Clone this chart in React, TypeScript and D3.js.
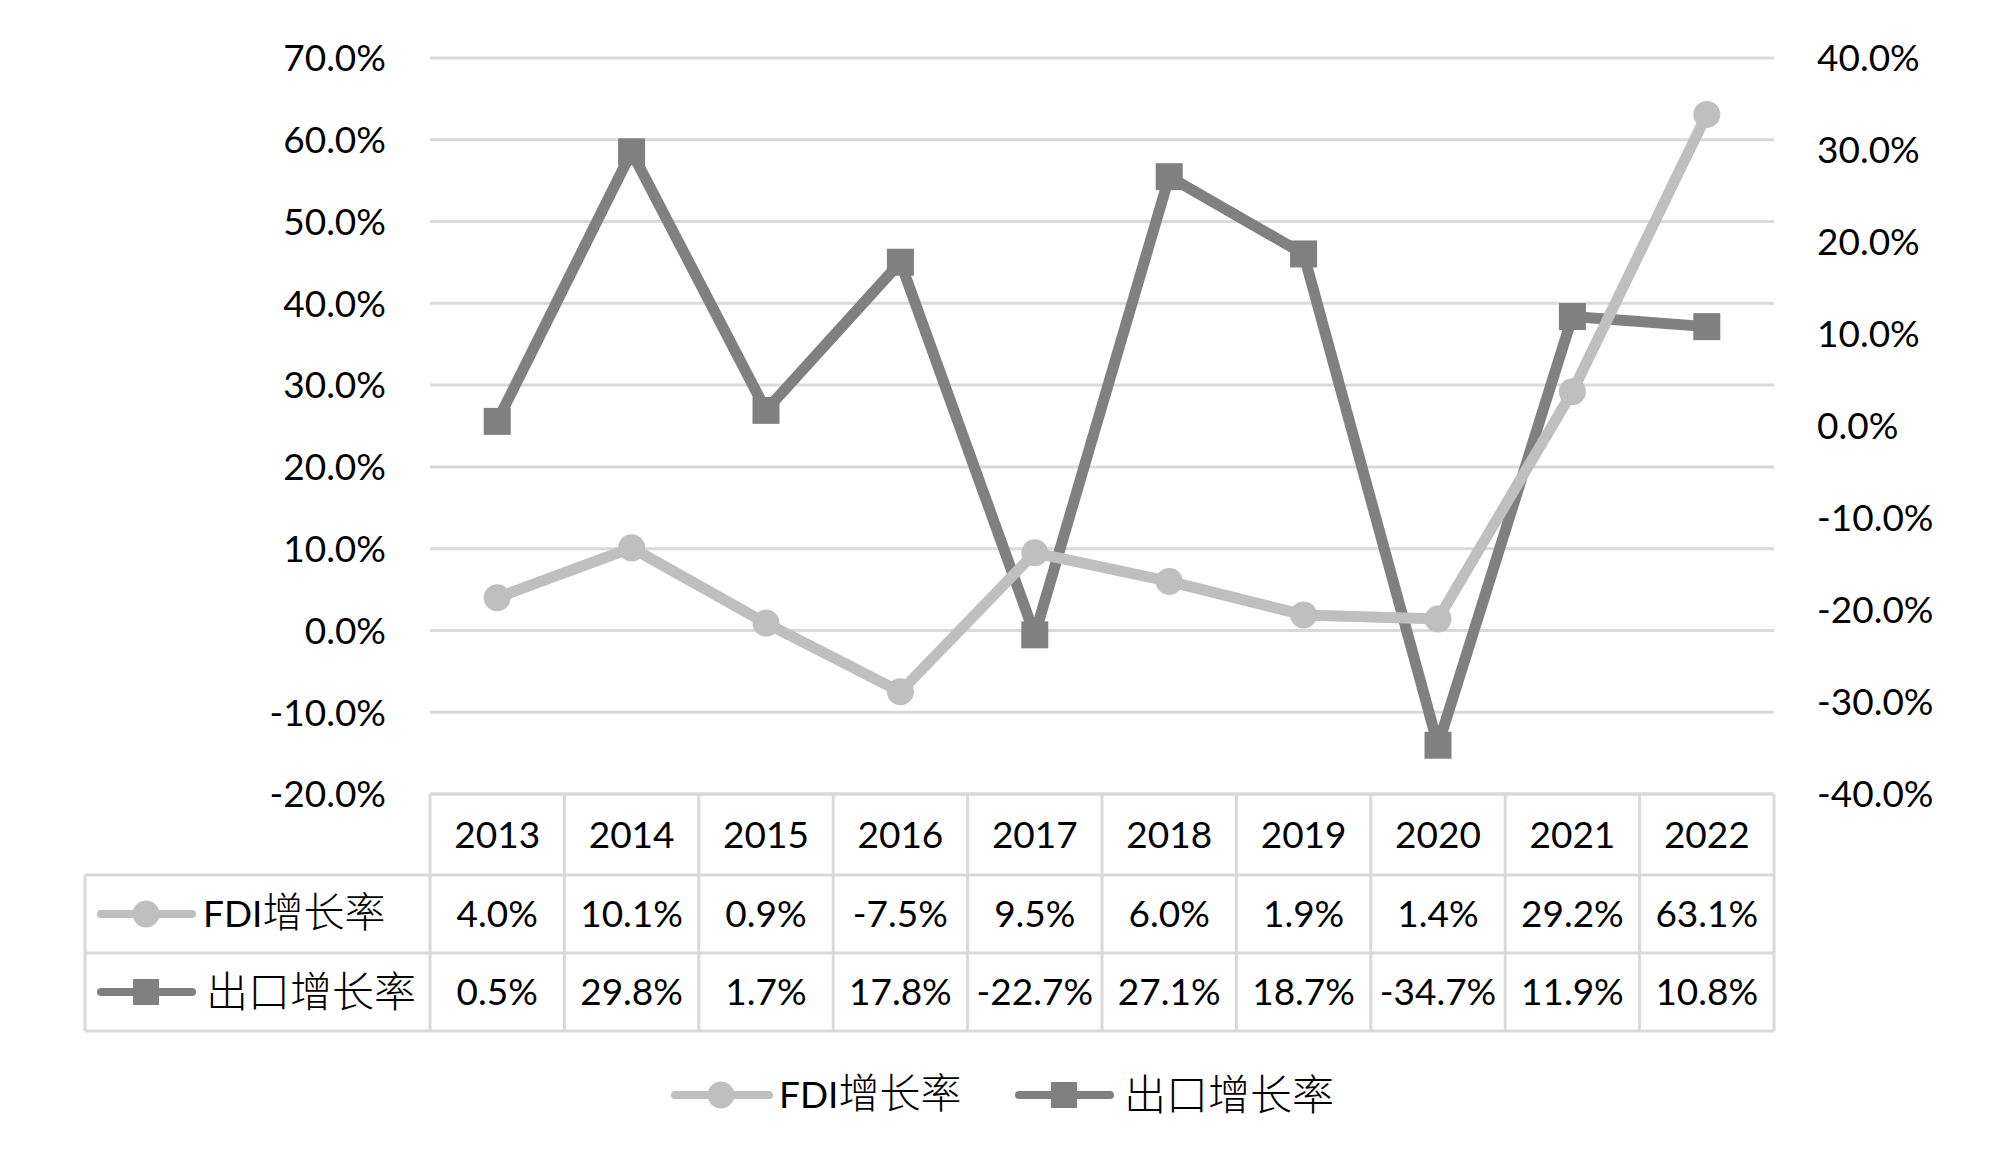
import React from "react";
import * as d3 from "d3";

const years = ["2013", "2014", "2015", "2016", "2017", "2018", "2019", "2020", "2021", "2022"];
const fdiValues = [4.0, 10.1, 0.9, -7.5, 9.5, 6.0, 1.9, 1.4, 29.2, 63.1];
const exportValues = [0.5, 29.8, 1.7, 17.8, -22.7, 27.1, 18.7, -34.7, 11.9, 10.8];
const leftTicks = [-20, -10, 0, 10, 20, 30, 40, 50, 60, 70];
const rightTicks = [-40, -30, -20, -10, 0, 10, 20, 30, 40];
const seriesNames = ["FDI增长率", "出口增长率"];

const W = 1999;
const H = 1171;
const FDI_COLOR = "#bfbfbf";
const EXP_COLOR = "#808080";
const GRID = "#d9d9d9";
const FONT = "Lato, 'Noto Sans CJK SC', sans-serif";
const CJK = "'Noto Sans CJK SC', sans-serif";

export default function App() {
  const plotLeft = 430;
  const plotRight = 1774;
  const plotTop = 58;
  const plotBottom = 794;

  const x = d3.scaleBand<string>().domain(years).range([plotLeft, plotRight]);
  const yL = d3.scaleLinear().domain([-20, 70]).range([plotBottom, plotTop]);
  const yR = d3.scaleLinear().domain([-40, 40]).range([plotBottom, plotTop]);
  const cx = (y: string) => (x(y) as number) + x.bandwidth() / 2;

  const fdiLine = d3
    .line<number>()
    .x((_, i) => cx(years[i]))
    .y((d) => yL(d));
  const expLine = d3
    .line<number>()
    .x((_, i) => cx(years[i]))
    .y((d) => yR(d));

  const fmt = (v: number) => v.toFixed(1) + "%";

  const tTop = plotBottom;
  const r1 = 875;
  const r2 = 953;
  const r3 = 1031;
  const tLeft = 85;
  const fs = 37;

  const markerSize = 27;

  return (
    <svg
      width={W}
      height={H}
      style={{ position: "absolute", left: 0, top: 0, background: "#fff" }}
      fontFamily={FONT}
    >
      <rect x={0} y={0} width={W} height={H} fill="#fff" />
      {leftTicks.map((t) => (
        <line key={"g" + t} x1={plotLeft} x2={plotRight} y1={yL(t)} y2={yL(t)} stroke={GRID} strokeWidth={3} />
      ))}
      {leftTicks.map((t) => (
        <text key={"l" + t} x={386} y={yL(t)} dy="0.36em" textAnchor="end" fontSize={fs} fill="#000">
          {fmt(t)}
        </text>
      ))}
      {rightTicks.map((t) => (
        <text key={"r" + t} x={1817} y={yR(t)} dy="0.36em" textAnchor="start" fontSize={fs} fill="#000">
          {fmt(t)}
        </text>
      ))}

      <g stroke={GRID} strokeWidth={3}>
        <line x1={plotLeft} x2={plotRight} y1={tTop} y2={tTop} />
        <line x1={tLeft} x2={plotRight} y1={r1} y2={r1} />
        <line x1={tLeft} x2={plotRight} y1={r2} y2={r2} />
        <line x1={tLeft} x2={plotRight} y1={r3} y2={r3} />
        <line x1={tLeft} x2={tLeft} y1={r1} y2={r3} />
        {years.map((yr) => (
          <line key={"v" + yr} x1={x(yr)} x2={x(yr)} y1={tTop} y2={r3} />
        ))}
        <line x1={plotRight} x2={plotRight} y1={tTop} y2={r3} />
      </g>
      {years.map((yr, i) => (
        <g key={"t" + yr} fontSize={fs} textAnchor="middle" fill="#000">
          <text x={cx(yr)} y={(tTop + r1) / 2} dy="0.36em">{yr}</text>
          <text x={cx(yr)} y={(r1 + r2) / 2} dy="0.36em">{fmt(fdiValues[i])}</text>
          <text x={cx(yr)} y={(r2 + r3) / 2} dy="0.36em">{fmt(exportValues[i])}</text>
        </g>
      ))}
      <g>
        <line x1={101} x2={192} y1={(r1 + r2) / 2} y2={(r1 + r2) / 2} stroke={FDI_COLOR} strokeWidth={8} strokeLinecap="round" />
        <circle cx={146} cy={(r1 + r2) / 2} r={markerSize / 2} fill={FDI_COLOR} />
        <text x={203} y={(r1 + r2) / 2} dy="0.36em" fontSize={fs} fill="#000">
          <tspan>FDI</tspan>
          <tspan fontSize={41} fontFamily={CJK} fontWeight={300}>增长率</tspan>
        </text>
        <line x1={101} x2={192} y1={(r2 + r3) / 2} y2={(r2 + r3) / 2} stroke={EXP_COLOR} strokeWidth={8} strokeLinecap="round" />
        <rect x={146 - 13} y={(r2 + r3) / 2 - 13} width={26} height={26} fill={EXP_COLOR} />
        <text x={206} y={(r2 + r3) / 2} dy="0.36em" fontSize={42} fontFamily={CJK} fontWeight={300} fill="#000">
          {seriesNames[1]}
        </text>
      </g>

      {fdiValues.map((v, i) => (
        <circle key={"fm" + i} cx={cx(years[i])} cy={yL(v)} r={markerSize / 2} fill={FDI_COLOR} />
      ))}
      <path d={expLine(exportValues) || ""} fill="none" stroke={EXP_COLOR} strokeWidth={11} strokeLinejoin="round" />
      <path d={fdiLine(fdiValues) || ""} fill="none" stroke={FDI_COLOR} strokeWidth={11} strokeLinejoin="round" />
      {exportValues.map((v, i) => (
        <rect key={"em" + i} x={cx(years[i]) - 13.5} y={yR(v) - 13.5} width={27} height={27} fill={EXP_COLOR} />
      ))}

      <g>
        <line x1={675} x2={769} y1={1095} y2={1095} stroke={FDI_COLOR} strokeWidth={8} strokeLinecap="round" />
        <circle cx={721} cy={1095} r={markerSize / 2} fill={FDI_COLOR} />
        <text x={779} y={1095} dy="0.36em" fontSize={fs} fill="#000">
          <tspan>FDI</tspan>
          <tspan fontSize={41} fontFamily={CJK} fontWeight={300}>增长率</tspan>
        </text>
        <line x1={1019} x2={1110} y1={1095} y2={1095} stroke={EXP_COLOR} strokeWidth={8} strokeLinecap="round" />
        <rect x={1064 - 13} y={1095 - 13} width={26} height={26} fill={EXP_COLOR} />
        <text x={1124} y={1095} dy="0.36em" fontSize={42} fontFamily={CJK} fontWeight={300} fill="#000">
          {seriesNames[1]}
        </text>
      </g>
    </svg>
  );
}
